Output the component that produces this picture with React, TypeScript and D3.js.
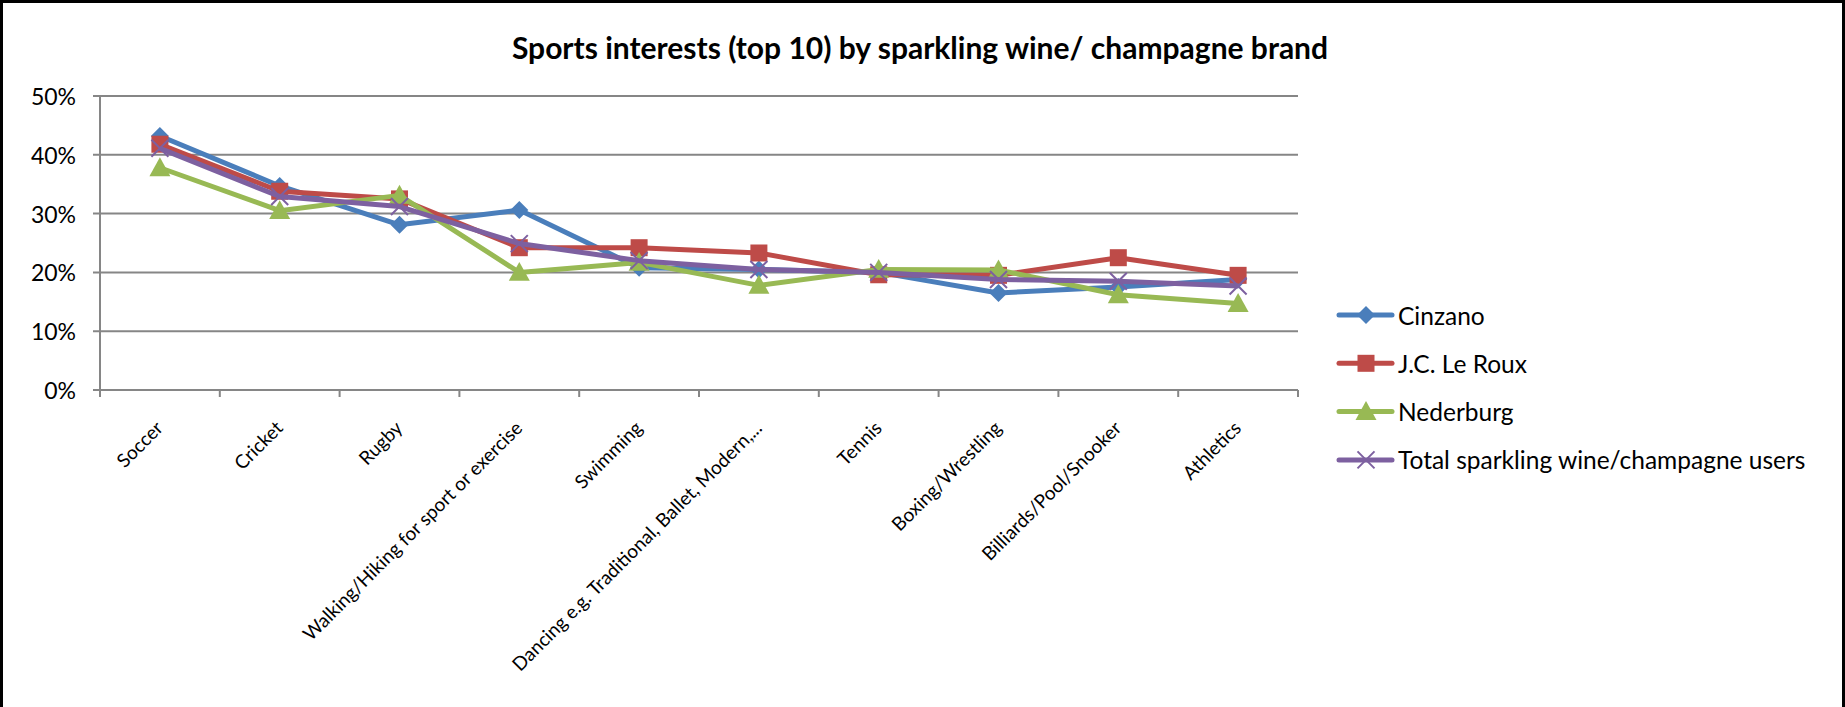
import React from "react";
import * as d3 from "d3";

const categories = [
  "Soccer",
  "Cricket",
  "Rugby",
  "Walking/Hiking for sport or exercise",
  "Swimming",
  "Dancing e.g. Traditional, Ballet, Modern,...",
  "Tennis",
  "Boxing/Wrestling",
  "Billiards/Pool/Snooker",
  "Athletics",
];

const cinzano = [0.432, 0.347, 0.281, 0.306, 0.208, 0.205, 0.2, 0.165, 0.175, 0.188];
const leRoux = [0.418, 0.338, 0.325, 0.242, 0.242, 0.233, 0.196, 0.195, 0.225, 0.195];
const nederburg = [0.378, 0.305, 0.331, 0.2, 0.217, 0.178, 0.205, 0.204, 0.162, 0.147];
const total = [0.411, 0.329, 0.312, 0.249, 0.22, 0.205, 0.2, 0.188, 0.185, 0.177];

const seriesNames = ["Cinzano", "J.C. Le Roux", "Nederburg", "Total sparkling wine/champagne users"];
const seriesColors = ["#4A7EBB", "#BE4B48", "#98B954", "#7D60A0"];
const seriesMarkers = ["diamond", "square", "triangle", "x"];
const seriesValues = [cinzano, leRoux, nederburg, total];

const yTicks = [0, 0.1, 0.2, 0.3, 0.4, 0.5];
const title = "Sports interests (top 10) by sparkling wine/ champagne brand";

const W = 1845;
const H = 707;
const left = 100;
const right = 1298;
const top = 96;
const bottom = 390;
const FONT = "Lato, 'Open Sans', sans-serif";

function Marker({ type, x, y, color }: { type: string; x: number; y: number; color: string }) {
  if (type === "diamond") {
    const s = 9;
    return <path d={`M${x},${y - s}L${x + s},${y}L${x},${y + s}L${x - s},${y}Z`} fill={color} />;
  }
  if (type === "square") {
    const s = 8.5;
    return <rect x={x - s} y={y - s} width={2 * s} height={2 * s} fill={color} />;
  }
  if (type === "triangle") {
    const s = 10.5;
    return <path d={`M${x},${y - s}L${x + s},${y + s * 0.8}L${x - s},${y + s * 0.8}Z`} fill={color} />;
  }
  const s = 8.5;
  return (
    <path
      d={`M${x - s},${y - s}L${x + s},${y + s}M${x - s},${y + s}L${x + s},${y - s}`}
      stroke={color}
      strokeWidth={2}
      fill="none"
    />
  );
}

export default function App() {
  const x = d3.scaleBand<string>().domain(categories).range([left, right]);
  const y = d3.scaleLinear().domain([0, 0.5]).range([bottom, top]);
  const fmt = d3.format(".0%");
  const line = d3
    .line<number>()
    .x((_, i) => (x(categories[i]) as number) + x.bandwidth() / 2)
    .y((d) => y(d));

  const boundaries = d3.range(categories.length + 1).map((i) => left + i * x.bandwidth());
  const legendX = 1339;
  const legendY0 = 315;
  const legendStep = 48.3;

  return (
    <div style={{ position: "absolute", left: 0, top: 0 }}>
      <svg width={W} height={H} style={{ display: "block" }}>
        <rect x={0} y={0} width={W} height={H} fill="#fff" />
        <rect x={1.5} y={1.5} width={W - 3} height={H + 10} fill="none" stroke="#000" strokeWidth={3} />
        <text
          x={920}
          y={47}
          textAnchor="middle"
          dominantBaseline="central"
          fontFamily={FONT}
          fontWeight="bold"
          fontSize={30}
          fill="#000"
        >
          {title}
        </text>
        {yTicks.map((t) => (
          <g key={t}>
            <line x1={left - 7} x2={right} y1={y(t)} y2={y(t)} stroke="#868686" strokeWidth={2} />
            <text
              x={76}
              y={y(t)}
              textAnchor="end"
              dominantBaseline="central"
              fontFamily={FONT}
              fontSize={23}
              fill="#000"
            >
              {fmt(t)}
            </text>
          </g>
        ))}
        <line x1={left} x2={left} y1={top} y2={bottom} stroke="#868686" strokeWidth={2} />
        {boundaries.map((b, i) => (
          <line key={i} x1={b} x2={b} y1={bottom} y2={bottom + 7} stroke="#868686" strokeWidth={2} />
        ))}
        {categories.map((c) => {
          const cx = (x(c) as number) + x.bandwidth() / 2;
          return (
            <text
              key={c}
              transform={`translate(${cx - 1},${bottom + 34}) rotate(-45)`}
              textAnchor="end"
              dominantBaseline="central"
              fontFamily={FONT}
              fontSize={19}
              fill="#000"
            >
              {c}
            </text>
          );
        })}
        {seriesValues.map((vals, si) => (
          <g key={si}>
            <path d={line(vals) as string} fill="none" stroke={seriesColors[si]} strokeWidth={5} strokeLinejoin="round" />
            {vals.map((v, i) => (
              <Marker
                key={i}
                type={seriesMarkers[si]}
                x={(x(categories[i]) as number) + x.bandwidth() / 2}
                y={y(v)}
                color={seriesColors[si]}
              />
            ))}
          </g>
        ))}
        {seriesNames.map((n, si) => {
          const ly = legendY0 + si * legendStep;
          return (
            <g key={n}>
              <line x1={legendX} x2={legendX + 53} y1={ly} y2={ly} stroke={seriesColors[si]} strokeWidth={5} strokeLinecap="round" />
              <Marker type={seriesMarkers[si]} x={legendX + 27} y={ly} color={seriesColors[si]} />
              <text
                x={legendX + 59}
                y={ly}
                dominantBaseline="central"
                fontFamily={FONT}
                fontSize={24.5}
                fill="#000"
              >
                {n}
              </text>
            </g>
          );
        })}
      </svg>
    </div>
  );
}
